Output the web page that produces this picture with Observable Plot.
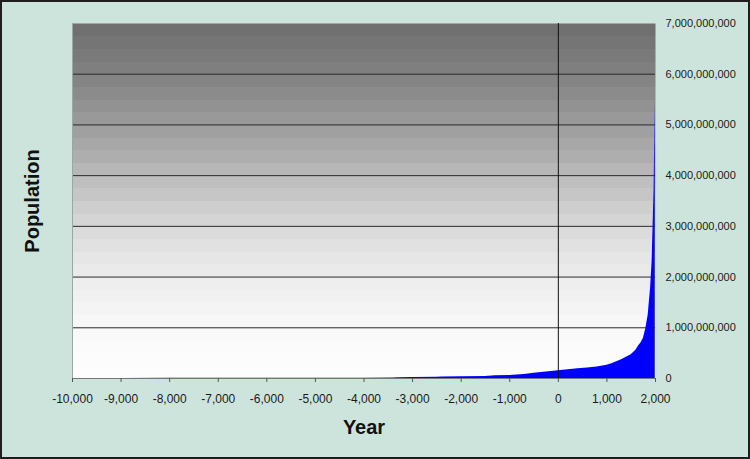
<!DOCTYPE html>
<html>
<head>
<meta charset="utf-8">
<script src="https://cdn.jsdelivr.net/npm/d3@7"></script>
<script src="https://cdn.jsdelivr.net/npm/@observablehq/plot@0.6"></script>
<style>
  html, body { margin: 0; padding: 0; background: #cde4dc; }
  #wrap { position: relative; width: 750px; height: 459px; overflow: hidden; }
  #border { position: absolute; left: 0; top: 0; width: 750px; height: 459px; box-sizing: border-box; border: 2px solid #1e1e1e; pointer-events: none; }
</style>
</head>
<body>
<div id="wrap"><div id="border"></div></div>
<script>
// Data (population in people)
const years = [-10000, -9000, -8000, -7000, -6000, -5000, -4000, -3400, -3300, -3000, -2500, -2400, -2000, -1500, -1300, -1000, -700, -500, -300, -100, 0, 200, 400, 600, 800, 1000, 1100, 1200, 1300, 1400, 1500, 1600, 1650, 1700, 1750, 1800, 1850, 1900, 1930, 1950, 1970, 1985, 1995];
const populationMillions = [1, 2, 3, 4, 5, 5, 7, 10, 16, 18, 24, 32, 34, 38, 55, 60, 80, 105, 125, 145, 155, 175, 190, 205, 225, 260, 290, 330, 370, 420, 470, 560, 640, 700, 790, 980, 1250, 1800, 2300, 3000, 3700, 4800, 5500];
const xTicks = [-10000, -9000, -8000, -7000, -6000, -5000, -4000, -3000, -2000, -1000, 0, 1000, 2000];
const yTicks = [0, 1e9, 2e9, 3e9, 4e9, 5e9, 6e9, 7e9];
const gridLines = [1e9, 2e9, 3e9, 4e9, 5e9, 6e9];
const xLabel = "Year";
const yLabel = "Population";

const data = years.map((year, i) => ({year, pop: populationMillions[i] * 1e6}));
const fmt = d => d.toLocaleString("en-US");

const chart = Plot.plot({
  width: 750,
  height: 459,
  marginLeft: 72,
  marginRight: 95,
  marginTop: 23,
  marginBottom: 81,
  style: {background: "#cde4dc", fontFamily: "'Liberation Sans', Arial, sans-serif", color: "#1a1a1a"},
  x: {domain: [-10000, 2000]},
  y: {domain: [0, 7e9]},
  marks: [
    Plot.frame({fill: "url(#bggrad)"}),
    Plot.ruleY(gridLines, {stroke: "#2a2a2a", strokeWidth: 1}),
    Plot.ruleX([-10000], {stroke: "#9aa8a2"}),
    Plot.areaY(data, {x: "year", y: "pop", fill: "#0000ff"}),
    Plot.ruleX([0], {stroke: "#111"}),
    Plot.ruleY([0], {stroke: "#777"}),
    Plot.axisX(xTicks, {tickSize: 4, tickPadding: 12, fontSize: 12, tickFormat: fmt, label: null, stroke: "#555"}),
    Plot.axisY(yTicks, {anchor: "right", tickSize: 0, tickPadding: 10, fontSize: 11, tickFormat: fmt, label: null}),
    Plot.text([xLabel], {frameAnchor: "bottom", dy: 49, lineAnchor: "middle", fontSize: 20, fontWeight: "bold", fill: "#111"}),
    Plot.text([yLabel], {frameAnchor: "left", dx: -40, rotate: -90, textAnchor: "middle", lineAnchor: "middle", fontSize: 20, fontWeight: "bold", fill: "#111"})
  ]
});

// banded vertical gradient for the plot background
const ns = "http://www.w3.org/2000/svg";
const defs = document.createElementNS(ns, "defs");
const grad = document.createElementNS(ns, "linearGradient");
grad.setAttribute("id", "bggrad");
grad.setAttribute("x1", "0"); grad.setAttribute("y1", "0");
grad.setAttribute("x2", "0"); grad.setAttribute("y2", "1");
// gray level from bottom (t=0) to top (t=1)
const levels = [253, 252, 248, 243, 236, 228, 216, 202, 187, 170, 156, 142, 129, 119, 110];
const grayAt = t => {
  const p = t * (levels.length - 1);
  const i = Math.min(Math.floor(p), levels.length - 2);
  return levels[i] + (levels[i + 1] - levels[i]) * (p - i);
};
const nBands = 28;
for (let b = 0; b < nBands; b++) {
  const top = b / nBands, bottom = (b + 1) / nBands; // offsets from top
  const tCenter = 1 - (b + 0.5) / nBands;
  const g = Math.round(grayAt(tCenter));
  const c = `rgb(${g},${g},${g})`;
  for (const off of [top, bottom]) {
    const s = document.createElementNS(ns, "stop");
    s.setAttribute("offset", off);
    s.setAttribute("stop-color", c);
    grad.appendChild(s);
  }
}
defs.appendChild(grad);
chart.insertBefore(defs, chart.firstChild);

document.getElementById("wrap").insertBefore(chart, document.getElementById("border"));
</script>
</body>
</html>
